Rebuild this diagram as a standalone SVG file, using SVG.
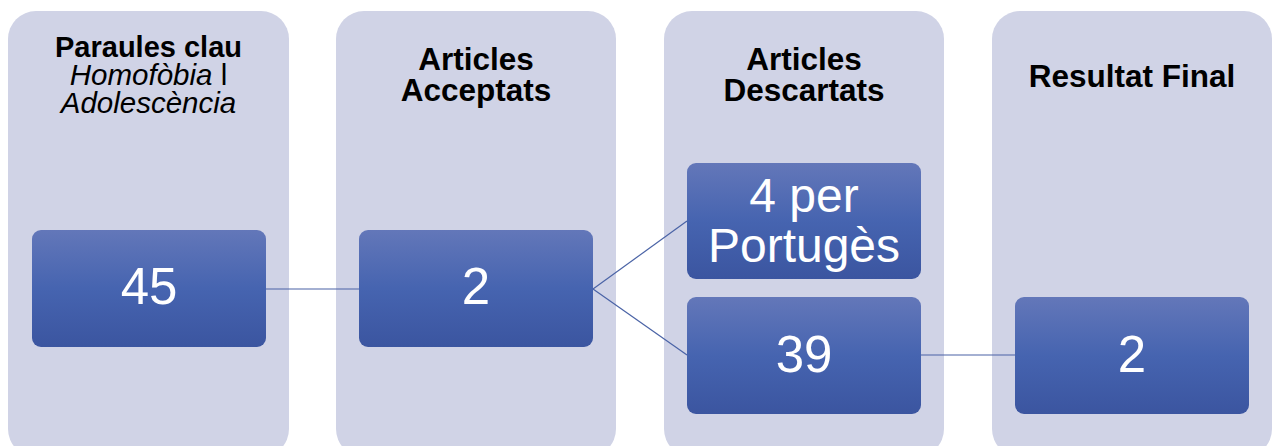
<svg xmlns="http://www.w3.org/2000/svg" width="1275" height="446" viewBox="0 0 1275 446">
<defs>
<linearGradient id="g" x1="0" y1="0" x2="0" y2="1">
<stop offset="0" stop-color="#6377b9"/>
<stop offset="0.5" stop-color="#4664b0"/>
<stop offset="1" stop-color="#3b55a0"/>
</linearGradient>
<style>
.col{fill:#d0d3e6}
.box{fill:url(#g)}
.hd{font-family:"Liberation Sans",Arial,sans-serif;font-weight:bold;fill:#000;text-anchor:middle}
.it{font-family:"Liberation Sans",Arial,sans-serif;font-style:italic;fill:#000;text-anchor:middle}
.num{font-family:"Liberation Sans",Arial,sans-serif;fill:#fff;text-anchor:middle}
.ln{stroke:#4a63a6;stroke-width:1.2;fill:none}
</style>
</defs>
<rect width="1275" height="446" fill="#fff"/>
<g id="col1"><rect class="col" x="8" y="11" width="281" height="446" rx="28"/>
<text class="hd" x="148.5" y="57" font-size="29">Paraules clau</text>
<text x="148.5" y="85" font-size="29.5" class="it">Homofòbia <tspan font-style="normal">l</tspan></text>
<text class="it" x="148.5" y="113" font-size="29.5">Adolescència</text></g>
<g id="col2"><rect class="col" x="336" y="11" width="280" height="446" rx="28"/>
<text class="hd" x="476" y="70" font-size="31.5">Articles</text>
<text class="hd" x="476" y="101" font-size="31.5">Acceptats</text></g>
<g id="col3"><rect class="col" x="664" y="11" width="280" height="446" rx="28"/>
<text class="hd" x="804" y="70" font-size="31.5">Articles</text>
<text class="hd" x="804" y="101" font-size="31.5">Descartats</text></g>
<g id="col4"><rect class="col" x="992" y="11" width="280" height="446" rx="28"/>
<text class="hd" x="1132" y="87" font-size="31.5">Resultat Final</text></g>
<g id="connectors">
<line class="ln" x1="266" y1="289" x2="359" y2="289"/>
<line class="ln" x1="593" y1="289" x2="687" y2="221"/>
<line class="ln" x1="593" y1="289" x2="687" y2="355"/>
<line class="ln" x1="921" y1="355" x2="1015" y2="355"/>
</g>
<g id="n45"><rect class="box" x="32" y="230" width="234" height="117" rx="9"/>
<text class="num" x="149" y="304" font-size="51">45</text></g>
<g id="n2a"><rect class="box" x="359" y="230" width="234" height="117" rx="9"/>
<text class="num" x="476" y="304" font-size="51">2</text></g>
<g id="n4"><rect class="box" x="687" y="163" width="234" height="116" rx="9"/>
<text class="num" x="804" y="212" font-size="48">4 per</text>
<text class="num" x="804" y="262" font-size="48">Portugès</text></g>
<g id="n39"><rect class="box" x="687" y="297" width="234" height="117" rx="9"/>
<text class="num" x="804" y="372" font-size="51">39</text></g>
<g id="n2b"><rect class="box" x="1015" y="297" width="234" height="117" rx="9"/>
<text class="num" x="1132" y="372" font-size="51">2</text></g>
</svg>
